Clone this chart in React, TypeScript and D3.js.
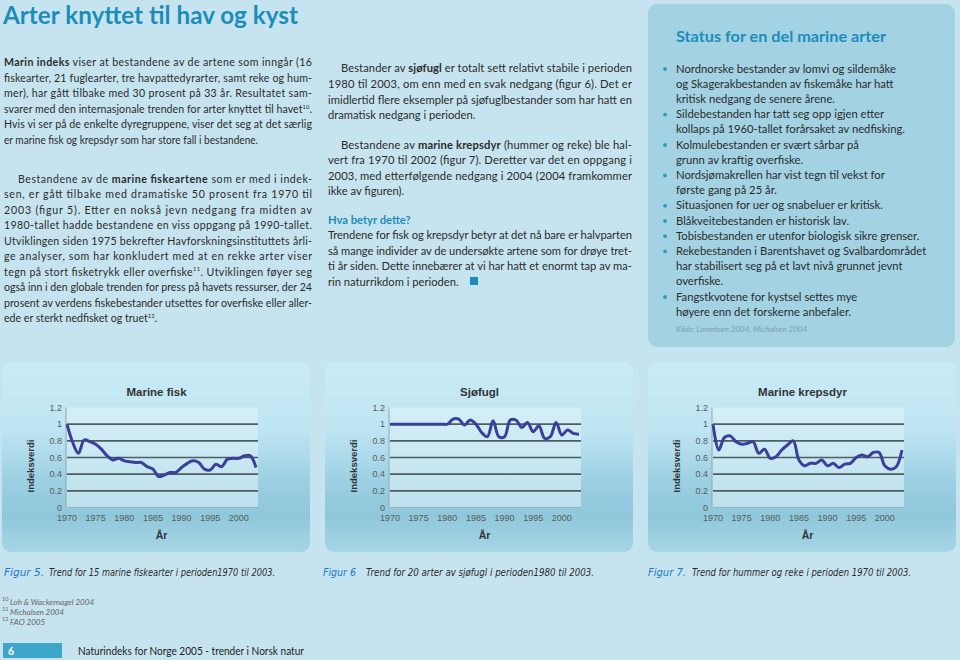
import React from "react";
import * as d3 from "d3";

// ---------- DATA ----------
const YEARS = [1970, 1971, 1972, 1973, 1974, 1975, 1976, 1977, 1978, 1979, 1980, 1981, 1982, 1983, 1984, 1985, 1986, 1987, 1988, 1989, 1990, 1991, 1992, 1993, 1994, 1995, 1996, 1997, 1998, 1999, 2000, 2001, 2002, 2003];
const MARINE_FISK = [1.0, 0.78, 0.65, 0.81, 0.79, 0.76, 0.7, 0.62, 0.57, 0.59, 0.56, 0.55, 0.54, 0.54, 0.49, 0.46, 0.37, 0.39, 0.42, 0.42, 0.48, 0.53, 0.56, 0.54, 0.46, 0.45, 0.52, 0.49, 0.58, 0.59, 0.59, 0.62, 0.62, 0.48];
const SJOFUGL = [1.0, 1.0, 1.0, 1.0, 1.0, 1.0, 1.0, 1.0, 1.0, 1.0, 1.0, 1.06, 1.06, 0.99, 1.05, 1.0, 0.9, 0.85, 1.04, 0.85, 0.85, 1.05, 1.05, 0.96, 1.02, 0.91, 0.98, 0.83, 0.85, 1.02, 0.87, 0.93, 0.89, 0.88];
const KREPSDYR = [1.0, 0.69, 0.84, 0.86, 0.79, 0.76, 0.77, 0.79, 0.65, 0.7, 0.59, 0.61, 0.69, 0.75, 0.8, 0.57, 0.5, 0.53, 0.53, 0.57, 0.5, 0.53, 0.48, 0.52, 0.53, 0.6, 0.63, 0.61, 0.66, 0.66, 0.5, 0.46, 0.49, 0.69];
const CHART_TITLES = ["Marine fisk", "Sjøfugl", "Marine krepsdyr"];
const Y_TICKS = [0, 0.2, 0.4, 0.6, 0.8, 1, 1.2];
const X_TICKS = [1970, 1975, 1980, 1985, 1990, 1995, 2000];
const Y_LABEL = "Indeksverdi";
const X_LABEL = "År";

type Seg = [string, string?];
type TL = { s: Seg[]; j?: boolean; ind?: boolean; w?: number };

const LEFT_P1: TL[] = [
  { s: [["Marin indeks", "b"], [" viser at bestandene av de artene som inngår (16"]], j: true },
  { s: [["fiskearter, 21 fuglearter, tre havpattedyrarter, samt reke og hum-"]], j: true },
  { s: [["mer), har gått tilbake med 30 prosent på 33 år. Resultatet sam-"]], j: true },
  { s: [["svarer med den internasjonale trenden for arter knyttet til havet"], ["10", "sup"], ["."]], j: true },
  { s: [["Hvis vi ser på de enkelte dyregruppene, viser det seg at det særlig"]], j: true },
  { s: [["er marine fisk og krepsdyr som har store fall i bestandene."]], w: 254 },
];
const LEFT_P2: TL[] = [
  { s: [["Bestandene av de "], ["marine fiskeartene", "b"], [" som er med i indek-"]], j: true, ind: true },
  { s: [["sen, er gått tilbake med dramatiske 50 prosent fra 1970 til"]], j: true },
  { s: [["2003 (figur 5). Etter en nokså jevn nedgang fra midten av"]], j: true },
  { s: [["1980-tallet hadde bestandene en viss oppgang på 1990-tallet."]], j: true },
  { s: [["Utviklingen siden 1975 bekrefter Havforskningsinstituttets årli-"]], j: true },
  { s: [["ge analyser, som har konkludert med at en rekke arter viser"]], j: true },
  { s: [["tegn på stort fisketrykk eller overfiske"], ["11", "sup"], [". Utviklingen føyer seg"]], j: true },
  { s: [["også inn i den globale trenden for press på havets ressurser, der 24"]], j: true },
  { s: [["prosent av verdens fiskebestander utsettes for overfiske eller aller-"]], j: true },
  { s: [["ede er sterkt nedfisket og truet"], ["12", "sup"], ["."]] },
];
const MID_P1: TL[] = [
  { s: [["Bestander av "], ["sjøfugl", "b"], [" er totalt sett relativt stabile i perioden"]], j: true, ind: true },
  { s: [["1980 til 2003, om enn med en svak nedgang (figur 6). Det er"]], j: true },
  { s: [["imidlertid flere eksempler på sjøfuglbestander som har hatt en"]], j: true },
  { s: [["dramatisk nedgang i perioden."]] },
];
const MID_P2: TL[] = [
  { s: [["Bestandene av "], ["marine krepsdyr", "b"], [" (hummer og reke) ble hal-"]], j: true, ind: true },
  { s: [["vert fra 1970 til 2002 (figur 7). Deretter var det en oppgang i"]], j: true },
  { s: [["2003, med etterfølgende nedgang i 2004 (2004 framkommer"]], j: true },
  { s: [["ikke av figuren)."]] },
];
const MID_P3: TL[] = [
  { s: [["Hva betyr dette?", "B"]] },
  { s: [["Trendene for fisk og krepsdyr betyr at det nå bare er halvparten"]], j: true },
  { s: [["så mange individer av de undersøkte artene som for drøye tret-"]], j: true },
  { s: [["ti år siden. Dette innebærer at vi har hatt et enormt tap av ma-"]], j: true },
  { s: [["rin naturrikdom i perioden."]] },
];
const BOX_TITLE = "Status for en del marine arter";
const BULLETS: string[][] = [
  ["Nordnorske bestander av lomvi og sildemåke", "og Skagerakbestanden av fiskemåke har hatt", "kritisk nedgang de senere årene."],
  ["Sildebestanden har tatt seg opp igjen etter", "kollaps på 1960-tallet forårsaket av nedfisking."],
  ["Kolmulebestanden er svært sårbar på", "grunn av kraftig overfiske."],
  ["Nordsjømakrellen har vist tegn til vekst for", "første gang på 25 år."],
  ["Situasjonen for uer og snabeluer er kritisk."],
  ["Blåkveitebestanden er historisk lav."],
  ["Tobisbestanden er utenfor biologisk sikre grenser."],
  ["Rekebestanden i Barentshavet og Svalbardområdet", "har stabilisert seg på et lavt nivå grunnet jevnt", "overfiske."],
  ["Fangstkvotene for kystsel settes mye", "høyere  enn det forskerne anbefaler."],
];
const BOX_SOURCE = "Kilde: Lorentsen 2004, Michalsen 2004";
const CAPTION_LABELS = ["Figur 5.", "Figur 6", "Figur 7."];
const CAPTION_TEXTS = [
  "Trend for 15 marine fiskearter i perioden1970 til 2003.",
  "Trend for 20 arter av sjøfugl  i perioden1980 til 2003.",
  "Trend for hummer og reke i perioden 1970 til 2003.",
];
const FOOTNOTES: [string, string][] = [
  ["10", "Loh & Wackernagel 2004"],
  ["11", "Michalsen 2004"],
  ["12", "FAO 2005"],
];
const PAGE_NO = "6";
const FOOTER = "Naturindeks for Norge 2005 - trender i Norsk natur";
const MAIN_TITLE = "Arter knyttet til hav og kyst";

// ---------- STYLE ----------
const FONT = "Lato, 'Open Sans', sans-serif";
const CHART_FONT = "'Liberation Sans', Arial, sans-serif";
const CAP_FONT = "'DejaVu Sans Condensed', 'Liberation Sans Narrow', sans-serif";
const BG = "#c6e4ef";
const BLUE = "#1c8dbb";
const TEXT = "#2b2b2b";

function Line({ x, y, w, segs, size, adj = "spacing", fill = TEXT }: { x: number; y: number; w?: number; segs: Seg[]; size: number; adj?: string; fill?: string }) {
  let prevSup = false;
  return (
    <text x={x} y={y} fontSize={size} fill={fill} fontFamily={FONT} textLength={w} lengthAdjust={adj}>
      {segs.map(([t, st], i) => {
        const sup = st === "sup";
        let dy: number | undefined = undefined;
        if (sup) dy = -size * 0.4;
        else if (prevSup) dy = size * 0.4;
        prevSup = sup;
        return (
          <tspan
            key={i}
            dy={dy}
            fontSize={sup ? size * 0.55 : undefined}
            fontWeight={st === "b" || st === "B" ? 700 : undefined}
            fill={st === "B" ? BLUE : undefined}
          >
            {t}
          </tspan>
        );
      })}
    </text>
  );
}

function Para({ lines, x, width, indent, y0, lh, size }: { lines: TL[]; x: number; width: number; indent: number; y0: number; lh: number; size: number }) {
  return (
    <g>
      {lines.map((l, i) => {
        const lx = l.ind ? x + indent : x;
        const w = l.j ? width - (l.ind ? indent : 0) : l.w;
        return <Line key={i} x={lx} y={y0 + i * lh} w={w} segs={l.s} size={size} adj={l.j ? "spacing" : "spacingAndGlyphs"} />;
      })}
    </g>
  );
}

function Chart({ left, values, title, idx }: { left: number; values: number[]; title: string; idx: number }) {
  const top = 362;
  const pw = 308;
  const ph = 190;
  const pl = left + 65;
  const pr = left + 254;
  const x = d3.scaleLinear().domain([1970, 2003]).range([pl, pr]);
  const y = d3.scaleLinear().domain([0, 1.2]).range([507.5, 407.5]);
  const line = d3
    .line<number>()
    .x((_, i) => x(YEARS[i]))
    .y((d) => y(d))
    .curve(d3.curveCatmullRom.alpha(0.5));
  const gid = `sea${idx}`;
  const pid = `plot${idx}`;
  return (
    <g>
      <defs>
        <linearGradient id={gid} x1="0" y1="0" x2="0" y2="1">
          <stop offset="0" stopColor="#c9ebf6" />
          <stop offset="0.35" stopColor="#bfe5f2" />
          <stop offset="0.5" stopColor="#acdaea" />
          <stop offset="0.62" stopColor="#9dd0e3" />
          <stop offset="0.8" stopColor="#8fc7db" />
          <stop offset="1" stopColor="#a6d5e5" />
        </linearGradient>
        <linearGradient id={pid} x1="0" y1="0" x2="0" y2="1">
          <stop offset="0" stopColor="#d6f0f8" />
          <stop offset="1" stopColor="#c4e5ef" />
        </linearGradient>
      </defs>
      <rect x={left} y={top} width={pw} height={ph} rx={9} fill={`url(#${gid})`} />
      <rect x={pl - 1} y={y(1.2)} width={pr - pl + 3} height={y(0) - y(1.2)} fill={`url(#${pid})`} opacity={0.85} />
      {Y_TICKS.filter((t) => t > 0 && t < 1.2).map((t) => (
        <line key={t} x1={pl} x2={pr + 2} y1={y(t)} y2={y(t)} stroke="#4f5c62" strokeWidth={1.6} />
      ))}
      <line x1={pl} x2={pr + 2} y1={y(0)} y2={y(0)} stroke="#9ab3bb" strokeWidth={1} />
      <line x1={pl - 1} x2={pl - 1} y1={y(1.2)} y2={y(0)} stroke="#8fa8b0" strokeWidth={1} />
      <path d={line(values) || ""} fill="none" stroke="#3a3f9c" strokeWidth={3} strokeLinejoin="round" />
      {Y_TICKS.map((t) => (
        <text key={t} x={pl - 5} y={y(t) + 3.2} fontSize={9} fill="#5a5a5a" textAnchor="end" fontFamily={CHART_FONT}>
          {d3.format("~g")(t)}
        </text>
      ))}
      {X_TICKS.map((t) => (
        <text key={t} x={x(t)} y={521} fontSize={9} fill="#5a5a5a" textAnchor="middle" fontFamily={CHART_FONT}>
          {t}
        </text>
      ))}
      <text x={(pl + pr) / 2 - 5} y={396} fontSize={11.5} fontWeight={700} fill="#333" textAnchor="middle" fontFamily={CHART_FONT}>
        {title}
      </text>
      <text
        transform={`translate(${pl - 33},466) rotate(-90)`}
        fontSize={9.5}
        fontWeight={700}
        fill="#333"
        textAnchor="middle"
        fontFamily={CHART_FONT}
      >
        {Y_LABEL}
      </text>
      <text x={(pl + pr) / 2} y={538.5} fontSize={10.5} fontWeight={700} fill="#333" textAnchor="middle" fontFamily={CHART_FONT}>
        {X_LABEL}
      </text>
    </g>
  );
}

export default function App() {
  const series = [MARINE_FISK, SJOFUGL, KREPSDYR];
  const lefts = [2, 325, 648];
  const capLab: [number, number][] = [[4, 40], [323, 33], [648, 38]];
  const capTxt: [number, number][] = [[49, 226], [366, 228], [692, 219]];
  const bulletLines: { t: string; first: boolean }[] = [];
  BULLETS.forEach((b) => b.forEach((t, i) => bulletLines.push({ t, first: i === 0 })));
  return (
    <svg width={960} height={660} style={{ position: "absolute", left: 0, top: 0 }} fontFamily={FONT}>
      <rect x={0} y={0} width={960} height={660} fill={BG} />
      <text x={3} y={24} fontSize={25} fontWeight={700} fill={BLUE} fontFamily={FONT} textLength={295} lengthAdjust="spacingAndGlyphs">
        {MAIN_TITLE}
      </text>

      <Para lines={LEFT_P1} x={4} width={308} indent={14} y0={66} lh={15.6} size={10.6} />
      <Para lines={LEFT_P2} x={4} width={308} indent={14} y0={182.5} lh={15.5} size={10.6} />

      <Para lines={MID_P1} x={328} width={304} indent={13} y0={72} lh={15.8} size={11.2} />
      <Para lines={MID_P2} x={328} width={304} indent={13} y0={149} lh={15.3} size={11.2} />
      <Para lines={MID_P3} x={328} width={304} indent={13} y0={223.5} lh={15.5} size={11.2} />
      <rect x={470} y={277} width={8} height={8} fill={BLUE} />

      <rect x={648} y={4} width={307} height={343} rx={9} fill="#a3d2e3" />
      <text x={676} y={42} fontSize={15} fontWeight={700} fill={BLUE} fontFamily={FONT} textLength={210} lengthAdjust="spacingAndGlyphs">
        {BOX_TITLE}
      </text>
      {bulletLines.map((l, i) => {
        const yy = 72.5 + i * 15.2;
        return (
          <g key={i}>
            {l.first && <circle cx={665} cy={yy - 3.5} r={1.9} fill="#2a9ac5" />}
            <text x={676} y={yy} fontSize={11.25} fill={TEXT} fontFamily={FONT}>
              {l.t}
            </text>
          </g>
        );
      })}
      <text x={676} y={332} fontSize={8} fontStyle="italic" fill="#7f9fab" fontFamily={FONT}>
        {BOX_SOURCE}
      </text>

      {series.map((s, i) => (
        <Chart key={i} left={lefts[i]} values={s} title={CHART_TITLES[i]} idx={i} />
      ))}

      {CAPTION_LABELS.map((lab, i) => (
        <g key={i}>
          <text x={capLab[i][0]} y={576} fontSize={11} fontStyle="italic" fontFamily={CAP_FONT} textLength={capLab[i][1]} lengthAdjust="spacingAndGlyphs" fill="#2079c7">
            {lab}
          </text>
          <text x={capTxt[i][0]} y={576} fontSize={11} fontStyle="italic" fontFamily={CAP_FONT} textLength={capTxt[i][1]} lengthAdjust="spacingAndGlyphs" fill={TEXT}>
            {CAPTION_TEXTS[i]}
          </text>
        </g>
      ))}

      {FOOTNOTES.map(([n, t], i) => (
        <g key={i}>
          <text x={2} y={601 + i * 10} fontSize={5.5} fill="#666" fontFamily={FONT}>
            {n}
          </text>
          <text x={10} y={605 + i * 10} fontSize={8} fontStyle="italic" fill="#666" fontFamily={FONT}>
            {t}
          </text>
        </g>
      ))}

      <rect x={3} y={643} width={59} height={15} fill="#3ea6cb" />
      <text x={8} y={655} fontSize={10.5} fontWeight={700} fill="#fff" fontFamily={FONT}>
        {PAGE_NO}
      </text>
      <text x={78} y={655} fontSize={11} fill="#222" fontFamily={FONT} textLength={226} lengthAdjust="spacingAndGlyphs">
        {FOOTER}
      </text>
    </svg>
  );
}
